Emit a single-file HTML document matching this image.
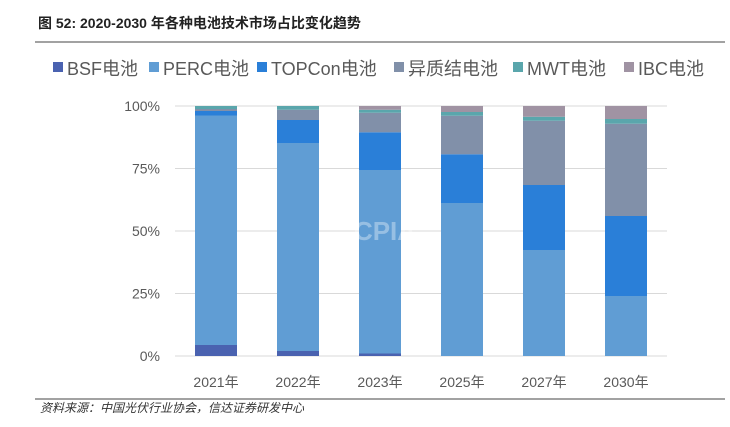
<!DOCTYPE html>
<html><head><meta charset="utf-8"><style>
body{margin:0;background:#fff;}
svg text{font-family:"Liberation Sans","Noto Sans CJK SC",sans-serif;}
</style></head><body>
<svg width="730" height="422" xmlns="http://www.w3.org/2000/svg">
<text x="38" y="28" font-size="14" font-weight="bold" fill="#222">图 52:  2020-2030 年各种电池技术市场占比变化趋势</text>
<line x1="35" y1="42" x2="725" y2="42" stroke="#444" stroke-width="1"/>
<g id="legend"></g>
<g id="grid"></g>
<g id="ylab"></g>
<g id="bars"></g>
<text x="385" y="240" font-size="26" font-weight="bold" fill="#ffffff" fill-opacity="0.35" text-anchor="middle">CPIA</text>
<g id="xlab"></g>
<line x1="35" y1="399" x2="725" y2="399" stroke="#444" stroke-width="1"/>
<text x="40" y="412" font-size="12" font-style="italic" fill="#333">资料来源：中国光伏行业协会，信达证券研发中心</text>
</svg>
<script>
const categories=["2021年","2022年","2023年","2025年","2027年","2030年"];
const seriesNames=["BSF电池","PERC电池","TOPCon电池","异质结电池","MWT电池","IBC电池"];
const bsf=[4.4,2.0,1.0,0,0,0];
const perc=[91.8,83.2,73.4,61.2,42.4,24.0];
const topcon=[1.8,9.2,15.1,19.5,26.0,32.0];
const hjt=[0.8,4.1,7.8,15.4,25.7,36.9];
const mwt=[1.2,1.5,1.2,1.5,1.6,1.9];
const ibc=[0,0,1.5,2.4,4.3,5.2];
const yTicks=[0,25,50,75,100];
const yTickLabels=["0%","25%","50%","75%","100%"];
const colors=["#4a62b0","#609dd4","#2a7fd8","#8190a9","#5aa6ac","#a093a3"];
const series=[bsf,perc,topcon,hjt,mwt,ibc];
const NS="http://www.w3.org/2000/svg";
const y0=356,y1=106;
const y=v=>y0-(v/100)*(y0-y1);
const x=i=>216+i*82;
const bw=42;
function mk(tag,attrs,parent){const e=document.createElementNS(NS,tag);for(const k in attrs)e.setAttribute(k,attrs[k]);document.getElementById(parent).appendChild(e);return e;}
yTicks.forEach((t,i)=>{
 const l=mk('line',{x1:175,x2:667,y1:y(t),y2:y(t),stroke:'#d9d9d9','stroke-width':1},'grid');
 
 
 const tx=mk('text',{x:160,y:y(t)+5,'font-size':14,fill:'#595959','text-anchor':'end'},'ylab');
 tx.textContent=yTickLabels[i];
 
 
});
categories.forEach((c,i)=>{
 let acc=0;
 series.forEach((s,j)=>{
  const v=s[i]; if(v<=0){return;}
  const r=mk('rect',{x:x(i)-bw/2,y:y(acc+v),width:bw,height:y(acc)-y(acc+v),fill:colors[j]},'bars');
  
  
  acc+=v;
 });
 const tx=mk('text',{x:x(i),y:387,'font-size':14,fill:'#595959','text-anchor':'middle'},'xlab');
 tx.textContent=c;
 
 
});
const lx=[53,149,257,394,513,624];
seriesNames.forEach((n,j)=>{
 const r=mk('rect',{x:lx[j],y:62,width:10,height:10,fill:colors[j]},'legend');
 
 
 const t=mk('text',{x:lx[j]+14,y:75,'font-size':18,fill:'#595959'},'legend');
 t.textContent=n;
 
 
});
</script>
</body></html>
